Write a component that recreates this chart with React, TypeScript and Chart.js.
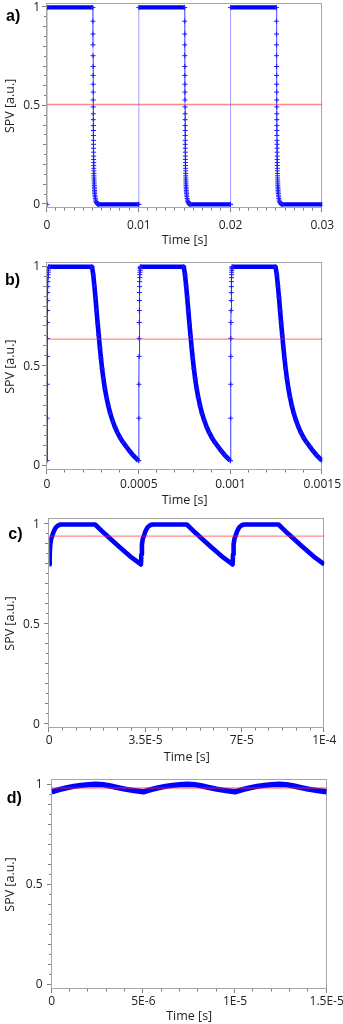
import React, { useEffect, useRef } from 'react';
import { Chart, registerables } from 'chart.js';

Chart.register(...registerables);

// ---------------- Data ----------------
// a) square excitation, period 0.01 s
const aCycleStarts = [0, 0.01, 0.02];
const aCycleTime = [
  0, 0.00001, 0.005, 0.005004, 0.005008, 0.005012, 0.005016, 0.00502, 0.005024, 0.005028,
  0.005032, 0.005036, 0.00504, 0.005044, 0.005048, 0.005052, 0.005056, 0.00506, 0.005064, 0.005068,
  0.005072, 0.005076, 0.00508, 0.005085, 0.00509, 0.005095, 0.0051, 0.005106, 0.005112, 0.005118,
  0.005124, 0.00513, 0.005138, 0.005146, 0.005154, 0.005162, 0.00517, 0.00518, 0.00519, 0.0052,
  0.00522, 0.00524, 0.00527, 0.0053, 0.00534, 0.00539, 0.00545, 0.00552, 0.0056, 0.00999,
];
const aCycleSpv = [
  0, 1, 1, 0.93, 0.865, 0.81, 0.755, 0.7, 0.655, 0.61,
  0.57, 0.53, 0.495, 0.46, 0.43, 0.4, 0.375, 0.35, 0.325, 0.305,
  0.285, 0.265, 0.245, 0.228, 0.212, 0.197, 0.183, 0.17, 0.157, 0.145,
  0.134, 0.124, 0.114, 0.104, 0.095, 0.087, 0.079, 0.071, 0.063, 0.056,
  0.047, 0.039, 0.03, 0.022, 0.015, 0.009, 0.005, 0.002, 0, 0,
];
const aLevel = 0.507;
const aTickValues = [0, 0.01, 0.02, 0.03];
const aTickLabels = ['0', '0.01', '0.02', '0.03'];

// b) period 0.0005 s
const bCycleStarts = [0, 0.0005, 0.001];
const bCycleTime = [
  0, 0.0000005, 0.000001, 0.0000015, 0.000002, 0.0000025, 0.000003, 0.0000035, 0.000004, 0.0000045,
  0.000005, 0.0000055, 0.000006, 0.0000065, 0.000007, 0.0000075, 0.000008, 0.0000085,
  0.000245, 0.000252, 0.000258, 0.000264, 0.00027, 0.000276, 0.000282, 0.000288, 0.000294, 0.0003,
  0.000307, 0.000315, 0.000324, 0.000334, 0.000345, 0.000357, 0.00037, 0.000384, 0.000399, 0.000415,
  0.000432, 0.00045, 0.000468, 0.000486, 0.000498,
];
const bCycleSpv = [
  0.027, 0.24, 0.41, 0.55, 0.64, 0.72, 0.78, 0.83, 0.87, 0.9,
  0.925, 0.945, 0.96, 0.972, 0.982, 0.99, 0.995, 1.0,
  1.0, 0.96, 0.905, 0.845, 0.78, 0.715, 0.655, 0.595, 0.54, 0.49,
  0.44, 0.39, 0.345, 0.302, 0.263, 0.228, 0.196, 0.167, 0.141, 0.118,
  0.097, 0.075, 0.055, 0.038, 0.027,
];
const bLevel = 0.637;
const bTickValues = [0, 0.0005, 0.001, 0.0015];
const bTickLabels = ['0', '0.0005', '0.001', '0.0015'];

// c) period 3.333E-5 s
const cCycleStarts = [0, 3.3333e-5, 6.6667e-5];
const cCycleTime = [
  0, 0.15e-6, 0.35e-6, 0.7e-6, 1.2e-6, 1.6e-6, 2.1e-6, 2.7e-6, 3.3e-6, 4.2e-6,
  1.667e-5, 2.0e-5, 2.5e-5, 3.0e-5, 3.333e-5,
];
const cCycleSpv = [
  0.8, 0.85, 0.9, 0.93, 0.948, 0.965, 0.979, 0.99, 0.996, 1.0,
  1.0, 0.956, 0.894, 0.834, 0.8,
];
const cLevel = 0.942;
const cTickValues = [0, 3.5e-5, 7e-5, 1e-4];
const cTickLabels = ['0', '3.5E-5', '7E-5', '1E-4'];

// d) period 5E-6 s
const dCycleStarts = [0, 5e-6, 1e-5];
const dCycleTime = [0, 0.4e-6, 0.8e-6, 1.2e-6, 1.6e-6, 2.0e-6, 2.4e-6, 2.8e-6, 3.2e-6, 3.6e-6, 4.0e-6, 4.5e-6, 5e-6];
const dCycleSpv = [0.966, 0.977, 0.986, 0.993, 0.998, 1.002, 1.004, 1.002, 0.995, 0.987, 0.979, 0.972, 0.966];
const dLevel = 0.985;
const dTickValues = [0, 5e-6, 1e-5, 1.5e-5];
const dTickLabels = ['0', '5E-6', '1E-5', '1.5E-5'];

// shared y axis labels
const spvTickValues = [0, 0.5, 1];
const spvTickLabels = ['0', '0.5', '1'];

// ---------------- Layout / style ----------------
const FONT = '"Open Sans", "DejaVu Sans", sans-serif';

type PanelCfg = {
  label: string; labelLeft: number; labelTop: number;
  top: number; height: number; padTop: number; padRight: number; yWidth: number; xHeight: number;
  xMax: number; yMax: number; xStep: number; xTickPad: number; titlePadBottom: number; yTickPad: number;
  starts: number[]; time: number[]; spv: number[]; level: number; xTicks: number[]; xLabels: string[];
  bandWidth: number; thinPx: number; thinColor: string; crossRadius: number;
};

const panels: PanelCfg[] = [
  {
    label: 'a)', labelLeft: 6, labelTop: 5.6, top: 0, height: 252, padTop: 1.2, padRight: 20.7, yWidth: 47,
    xHeight: 43.7, xMax: 0.03, yMax: 1.02, xStep: 0.001, xTickPad: 10.5, titlePadBottom: 4.5, yTickPad: 7,
    starts: aCycleStarts, time: aCycleTime, spv: aCycleSpv, level: aLevel, xTicks: aTickValues, xLabels: aTickLabels,
    bandWidth: 4.2, thinPx: 0.5, thinColor: 'rgba(80,80,255,0.55)', crossRadius: 2.5,
  },
  {
    label: 'b)', labelLeft: 5, labelTop: 270.3, top: 252, height: 260, padTop: 11.3, padRight: 20.7, yWidth: 47,
    xHeight: 42, xMax: 0.0015, yMax: 1.017, xStep: 0.0001, xTickPad: 7.8, titlePadBottom: 4.5, yTickPad: 7,
    starts: bCycleStarts, time: bCycleTime, spv: bCycleSpv, level: bLevel, xTicks: bTickValues, xLabels: bTickLabels,
    bandWidth: 4.6, thinPx: 0.5, thinColor: 'rgba(20,20,255,0.85)', crossRadius: 2.5,
  },
  {
    label: 'c)', labelLeft: 8.3, labelTop: 523.6, top: 504, height: 270, padTop: 14.7, padRight: 18.7, yWidth: 49.3,
    xHeight: 45.7, xMax: 1e-4, yMax: 1.029, xStep: 0.5e-5, xTickPad: 5.5, titlePadBottom: 9.5, yTickPad: 9.5,
    starts: cCycleStarts, time: cCycleTime, spv: cCycleSpv, level: cLevel, xTicks: cTickValues, xLabels: cTickLabels,
    bandWidth: 4.6, thinPx: 0, thinColor: '#0000ff', crossRadius: 0,
  },
  {
    label: 'd)', labelLeft: 6.7, labelTop: 787.6, top: 764, height: 260, padTop: 16, padRight: 16.3, yWidth: 51.7,
    xHeight: 35, xMax: 1.5e-5, yMax: 1.025, xStep: 1e-6, xTickPad: 5.8, titlePadBottom: 0, yTickPad: 9,
    starts: dCycleStarts, time: dCycleTime, spv: dCycleSpv, level: dLevel, xTicks: dTickValues, xLabels: dTickLabels,
    bandWidth: 5.4, thinPx: 0, thinColor: '#0000ff', crossRadius: 0,
  },
];

// frame + minor/major tick marks drawn through the chart's own scales
const framePlugin = {
  id: 'spvFrame',
  beforeDatasetsDraw(chart: any, _args: any, opts: any) {
    const { ctx, chartArea, scales } = chart;
    const x = scales.x;
    const y = scales.y;
    const L = Math.round(chartArea.left);
    const R = Math.round(chartArea.right);
    const T = Math.round(chartArea.top);
    const B = Math.round(chartArea.bottom);
    ctx.save();
    ctx.lineWidth = 1;
    ctx.strokeStyle = '#7f7f7f';
    ctx.beginPath();
    const nX = Math.round((x.max - x.min) / opts.xStep);
    for (let i = 0; i <= nX; i++) {
      const v = x.min + i * opts.xStep;
      const px = Math.round(x.getPixelForValue(v)) - 0.5;
      const major = opts.xTicks.some((t: number) => Math.abs(t - v) < opts.xStep * 1e-3);
      const len = major ? 4 : 2.5;
      ctx.moveTo(px, B);
      ctx.lineTo(px, B + len);
    }
    for (let i = 0; i <= 20; i++) {
      const v = i * 0.05;
      const py = Math.round(y.getPixelForValue(v)) - 0.5;
      const len = i % 10 === 0 ? 4 : i % 2 === 0 ? 3 : 2;
      ctx.moveTo(L - 1, py);
      ctx.lineTo(L - 1 - len, py);
    }
    ctx.stroke();
    ctx.strokeStyle = '#a6a6a6';
    ctx.strokeRect(L - 0.5, T - 0.5, R - L, B - T);
    ctx.restore();
  },
};

function Panel({ cfg }: { cfg: PanelCfg }) {
  const ref = useRef<HTMLCanvasElement | null>(null);
  useEffect(() => {
    if (!ref.current) return;
    const trace = cfg.starts.flatMap((s) => cfg.time.map((t, i) => ({ x: s + t, y: cfg.spv[i] })));
    const isThin = (c: any) => Math.abs(c.p1.x - c.p0.x) < cfg.thinPx;
    const chart = new Chart(ref.current, {
      type: 'line',
      data: {
        datasets: [
          {
            label: 'level',
            data: [{ x: 0, y: cfg.level }, { x: cfg.xMax, y: cfg.level }],
            borderColor: 'rgba(255,40,40,0.55)',
            borderWidth: 1.3,
            pointRadius: 0,
            order: 0,
          },
          {
            label: 'SPV',
            data: trace,
            borderColor: '#0000ff',
            borderWidth: cfg.bandWidth,
            borderJoinStyle: 'round',
            tension: 0,
            pointStyle: 'cross',
            pointRadius: cfg.crossRadius,
            pointHoverRadius: 0,
            pointBorderColor: '#1a1aff',
            pointBackgroundColor: '#1a1aff',
            pointBorderWidth: 1,
            order: 1,
            segment: {
              borderWidth: (c: any) => (isThin(c) ? 1 : cfg.bandWidth),
              borderColor: (c: any) => (isThin(c) ? cfg.thinColor : '#0000ff'),
            },
          } as any,
        ],
      },
      options: {
        responsive: false,
        maintainAspectRatio: false,
        devicePixelRatio: 1,
        animation: false,
        events: [],
        layout: { padding: { top: cfg.padTop, right: cfg.padRight, left: 0, bottom: 0 } },
        plugins: {
          legend: { display: false },
          tooltip: { enabled: false },
          spvFrame: { xStep: cfg.xStep, xTicks: cfg.xTicks },
        } as any,
        scales: {
          x: {
            type: 'linear',
            min: 0,
            max: cfg.xMax,
            grid: { display: false, drawTicks: false, tickLength: 0 },
            border: { display: false },
            afterBuildTicks: (s: any) => { s.ticks = cfg.xTicks.map((v) => ({ value: v })); },
            afterFit: (s: any) => { s.height = cfg.xHeight; s.paddingLeft = 0; s.paddingRight = 0; },
            ticks: {
              autoSkip: false,
              maxRotation: 0,
              minRotation: 0,
              padding: cfg.xTickPad,
              color: '#222',
              font: { family: FONT, size: 12 },
              callback: (_v: any, i: number) => cfg.xLabels[i],
            },
            title: {
              display: true,
              text: 'Time [s]',
              color: '#222',
              font: { family: FONT, size: 12.5 },
              padding: { top: 0, bottom: cfg.titlePadBottom },
            },
          },
          y: {
            type: 'linear',
            min: -0.02,
            max: cfg.yMax,
            grid: { display: false, drawTicks: false, tickLength: 0 },
            border: { display: false },
            afterBuildTicks: (s: any) => { s.ticks = spvTickValues.map((v) => ({ value: v })); },
            afterFit: (s: any) => { s.width = cfg.yWidth; s.paddingTop = 0; s.paddingBottom = 0; },
            ticks: {
              autoSkip: false,
              padding: cfg.yTickPad,
              color: '#222',
              font: { family: FONT, size: 12 },
              callback: (_v: any, i: number) => spvTickLabels[i],
            },
            title: {
              display: true,
              text: 'SPV [a.u.]',
              color: '#222',
              font: { family: FONT, size: 12.5 },
              padding: { top: 2.8, bottom: 0 },
            },
          },
        },
      } as any,
      plugins: [framePlugin],
    });
    return () => chart.destroy();
  }, [cfg]);

  return (
    <div style={{ position: 'absolute', left: 0, top: cfg.top, width: 343, height: cfg.height }}>
      <canvas ref={ref} width={343} height={cfg.height} style={{ display: 'block', width: 343, height: cfg.height }} />
    </div>
  );
}

export default function App() {
  return (
    <div style={{ position: 'absolute', left: 0, top: 0, width: 343, height: 1024, background: '#fff', overflow: 'hidden' }}>
      {panels.map((p) => (
        <Panel key={p.label} cfg={p} />
      ))}
      {panels.map((p) => (
        <div
          key={'lbl' + p.label}
          style={{
            position: 'absolute',
            left: p.labelLeft,
            top: p.labelTop,
            font: 'bold 16px "Liberation Sans", Arial, sans-serif',
            lineHeight: '20px',
            color: '#000',
          }}
        >
          {p.label}
        </div>
      ))}
    </div>
  );
}
